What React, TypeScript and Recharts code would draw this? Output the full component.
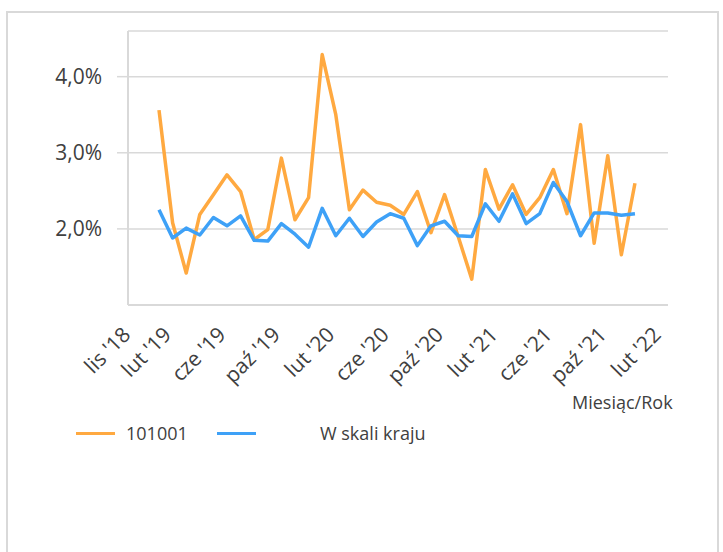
import { CartesianGrid, Line, LineChart, XAxis, YAxis } from "recharts";

// miesiące z danymi (sty 2019 – gru 2021)
const MONTHS = [
  "2019-01", "2019-02", "2019-03", "2019-04", "2019-05", "2019-06",
  "2019-07", "2019-08", "2019-09", "2019-10", "2019-11", "2019-12",
  "2020-01", "2020-02", "2020-03", "2020-04", "2020-05", "2020-06",
  "2020-07", "2020-08", "2020-09", "2020-10", "2020-11", "2020-12",
  "2021-01", "2021-02", "2021-03", "2021-04", "2021-05", "2021-06",
  "2021-07", "2021-08", "2021-09", "2021-10", "2021-11", "2021-12",
];

const SERIES_101001 = [
  3.56, 2.08, 1.42, 2.19, 2.45, 2.71, 2.49, 1.86, 1.99, 2.93, 2.12, 2.41,
  4.29, 3.5, 2.25, 2.51, 2.35, 2.31, 2.19, 2.49, 1.95, 2.45, 1.9, 1.34,
  2.78, 2.26, 2.58, 2.19, 2.41, 2.78, 2.2, 3.37, 1.81, 2.96, 1.66, 2.6,
];

const SERIES_KRAJ = [
  2.25, 1.88, 2.01, 1.92, 2.15, 2.04, 2.17, 1.85, 1.84, 2.07, 1.93, 1.76,
  2.27, 1.91, 2.14, 1.9, 2.09, 2.2, 2.14, 1.78, 2.04, 2.1, 1.91, 1.9,
  2.33, 2.1, 2.46, 2.07, 2.2, 2.61, 2.36, 1.91, 2.21, 2.21, 2.18, 2.2,
];

const TICK_MONTHS = [
  "2018-11", "2019-02", "2019-06", "2019-10", "2020-02", "2020-06",
  "2020-10", "2021-02", "2021-06", "2021-10", "2022-02",
];
const TICK_LABELS = [
  "lis '18", "lut '19", "cze '19", "paź '19", "lut '20", "cze '20",
  "paź '20", "lut '21", "cze '21", "paź '21", "lut '22",
];
const Y_TICKS = [2, 3, 4];

const ORANGE = "#FFA940";
const BLUE = "#3EA1F7";
const GRID = "#D9D9D9";
const TEXT = "#404040";
const FONT = "'Open Sans', sans-serif";

const monthIndex = (ym: string) => {
  const [y, m] = ym.split("-").map(Number);
  return (y - 2018) * 12 + (m - 11);
};

const data = MONTHS.map((month, i) => ({
  m: monthIndex(month),
  local: SERIES_101001[i],
  kraj: SERIES_KRAJ[i],
}));
const xTicks = TICK_MONTHS.map(monthIndex);

function MonthTick({ x, y, payload }: { x: number; y: number; payload: { value: number } }) {
  const label = TICK_LABELS[xTicks.indexOf(payload.value)];
  const ty = y + 31;
  return (
    <text
      x={x}
      y={ty}
      transform={`rotate(-45, ${x}, ${ty})`}
      textAnchor="end"
      fill={TEXT}
      fontSize={21}
      fontFamily={FONT}
    >
      {label}
    </text>
  );
}

export default function App() {
  return (
    <div
      style={{
        position: "absolute",
        left: 0,
        top: 0,
        width: 723,
        height: 552,
        overflow: "hidden",
        background: "#fff",
        fontFamily: FONT,
        color: TEXT,
      }}
    >
      <div
        style={{
          position: "absolute",
          left: 6,
          top: 11,
          width: 709,
          height: 560,
          border: `2px solid ${GRID}`,
        }}
      />
      <LineChart
        width={723}
        height={552}
        data={data}
        margin={{ top: 31, right: 55, left: 0, bottom: 207 }}
        style={{ position: "absolute", left: 0, top: 0 }}
      >
        <CartesianGrid vertical={false} stroke={GRID} strokeWidth={1.5} />
        <XAxis
          dataKey="m"
          type="number"
          domain={[-0.28, 39.43]}
          ticks={xTicks}
          interval={0}
          height={40}
          tickLine={false}
          tickSize={0}
          tickMargin={0}
          axisLine={{ stroke: GRID, strokeWidth: 2 }}
          tick={MonthTick}
        />
        <YAxis
          domain={[1, 4.6]}
          ticks={Y_TICKS}
          width={128}
          tickSize={11}
          tickMargin={15}
          tickLine={{ stroke: GRID, strokeWidth: 1.5 }}
          axisLine={{ stroke: GRID, strokeWidth: 2 }}
          tickFormatter={(v: number) => `${v.toFixed(1).replace(".", ",")}%`}
          tick={{ fill: TEXT, fontSize: 21, fontFamily: FONT }}
        />
        <Line
          type="linear"
          dataKey="local"
          stroke={ORANGE}
          strokeWidth={3.5}
          strokeLinejoin="round"
          dot={false}
          isAnimationActive={false}
        />
        <Line
          type="linear"
          dataKey="kraj"
          stroke={BLUE}
          strokeWidth={3.5}
          strokeLinejoin="round"
          dot={false}
          isAnimationActive={false}
        />
      </LineChart>
      <div style={{ position: "absolute", left: 572, top: 390, fontSize: 18, lineHeight: "24px" }}>
        Miesiąc/Rok
      </div>
      <div style={{ position: "absolute", left: 76, top: 432, width: 39, height: 3, background: ORANGE }} />
      <div style={{ position: "absolute", left: 126, top: 421, fontSize: 18, lineHeight: "24px" }}>101001</div>
      <div style={{ position: "absolute", left: 217, top: 432, width: 39, height: 3, background: BLUE }} />
      <div style={{ position: "absolute", left: 320, top: 421, fontSize: 18, lineHeight: "24px" }}>
        W skali kraju
      </div>
    </div>
  );
}
